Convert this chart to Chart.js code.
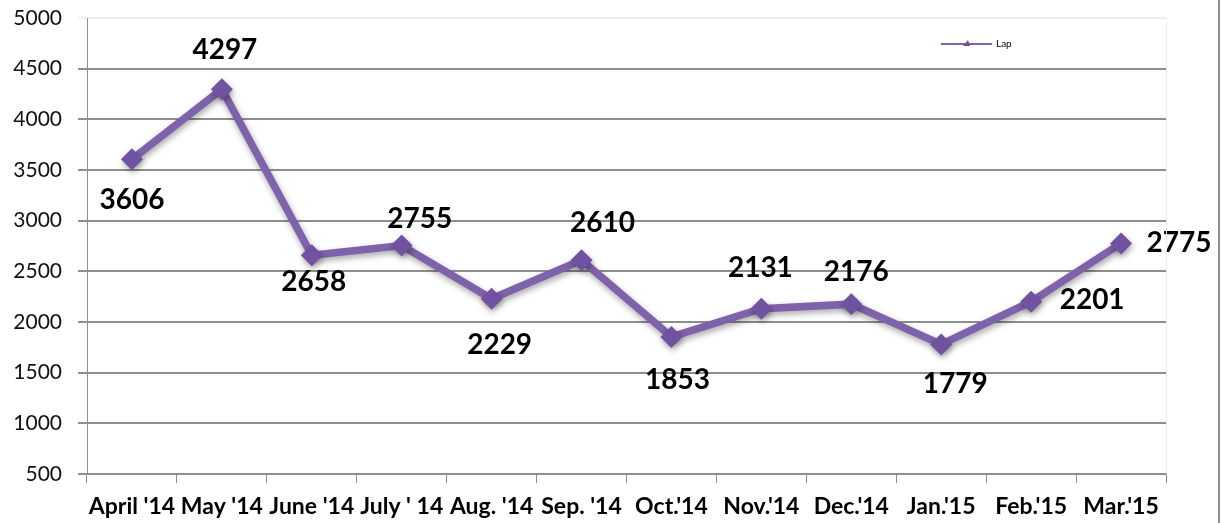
<!DOCTYPE html>
<html>
<head>
<meta charset="utf-8">
<script src="https://cdn.jsdelivr.net/npm/chart.js@4/dist/chart.umd.min.js"></script>
<style>
  html, body { margin: 0; padding: 0; background: #fff; }
  #wrap { width: 1228px; height: 523px; }
</style>
</head>
<body>
<div id="wrap"><canvas id="chart"></canvas></div>
<script>
// months on the x axis
const months = ["April '14", "May '14", "June '14", "July ' 14", "Aug. '14", "Sep. '14",
  "Oct.'14", "Nov.'14", "Dec.'14", "Jan.'15", "Feb.'15", "Mar.'15"]
// series values
const lapValues = [3606, 4297, 2658, 2755, 2229, 2610, 1853, 2131, 2176, 1779, 2201, 2775]
// y axis range
const yMin = 500
const yMax = 5000
const yStep = 500

const purple = '#7e62aa'
const gridGrey = '#8e8e8e'

// label offsets from each point (dx, dy), like the hand placed labels in the original
const labelOffsets = [[0, 41], [3, -39], [2, 27], [18, -27], [8, 46], [21, -37],
  [6, 43], [-1, -41], [5, -32], [14, 40], [61, -2], [58, 0]]

const shadowPlugin = {
  id: 'shadow',
  beforeDatasetsDraw(chart) {
    const ctx = chart.ctx
    ctx.save()
    ctx.shadowColor = 'rgba(0,0,0,0.35)'
    ctx.shadowBlur = 6
    ctx.shadowOffsetX = 1
    ctx.shadowOffsetY = 3
  },
  afterDatasetsDraw(chart) {
    chart.ctx.restore()
  }
}

const valueLabels = {
  id: 'valueLabels',
  afterDraw(chart) {
    const ctx = chart.ctx
    const meta = chart.getDatasetMeta(0)
    ctx.save()
    ctx.font = 'bold 28px Lato'
    ctx.fillStyle = '#000'
    ctx.textAlign = 'center'
    ctx.textBaseline = 'middle'
    meta.data.forEach((pt, i) => {
      const off = labelOffsets[i]
      ctx.fillText(chart.data.datasets[0].data[i], pt.x + off[0], pt.y + off[1])
    })
    ctx.restore()
  }
}

// small legend inside plot + right frame line
const legendAndFrame = {
  id: 'legendAndFrame',
  afterDraw(chart) {
    const ctx = chart.ctx
    const area = chart.chartArea
    ctx.save()
    // faint right edge of the plot
    ctx.strokeStyle = '#eeeeee'
    ctx.lineWidth = 1
    ctx.beginPath()
    ctx.moveTo(area.right + 0.5, area.top)
    ctx.lineTo(area.right + 0.5, area.bottom)
    ctx.stroke()
    // outer frame on the right
    ctx.strokeStyle = gridGrey
    ctx.lineWidth = 2
    ctx.beginPath()
    ctx.moveTo(chart.width - 9, 0)
    ctx.lineTo(chart.width - 9, chart.height)
    ctx.stroke()
    // legend
    const lx = area.left + 854, ly = 44
    ctx.strokeStyle = purple
    ctx.lineWidth = 2
    ctx.beginPath()
    ctx.moveTo(lx, ly)
    ctx.lineTo(lx + 51, ly)
    ctx.stroke()
    ctx.fillStyle = '#6e5098'
    ctx.beginPath()
    ctx.moveTo(lx + 22, ly + 2)
    ctx.lineTo(lx + 29, ly + 2)
    ctx.lineTo(lx + 27, ly - 4)
    ctx.closePath()
    ctx.fill()
    ctx.fillStyle = '#000'
    ctx.font = '10px Lato'
    ctx.textBaseline = 'middle'
    ctx.fillText(chart.data.datasets[0].label, lx + 55, ly)
    ctx.restore()
  }
}

new Chart(document.getElementById('chart'), {
  type: 'line',
  data: {
    labels: months,
    datasets: [{
      label: 'Lap',
      data: lapValues,
      borderColor: purple,
      borderWidth: 7.5,
      tension: 0,
      pointStyle: 'rectRot',
      pointRadius: 11,
      pointBackgroundColor: '#7152a0',
      pointBorderWidth: 0,
      pointHoverRadius: 11
    }]
  },
  options: {
    responsive: true,
    maintainAspectRatio: false,
    animation: false,
    layout: { padding: { top: 18, right: 62, left: 0, bottom: 0 } },
    plugins: {
      legend: { display: false },
      tooltip: { enabled: false }
    },
    scales: {
      x: {
        offset: true,
        grid: {
          offset: true,
          drawOnChartArea: false,
          drawTicks: true,
          tickLength: 9,
          color: gridGrey,
          lineWidth: 1
        },
        border: { display: true, color: gridGrey, width: 1 },
        ticks: {
          autoSkip: false,
          maxRotation: 0,
          minRotation: 0,
          padding: 10,
          color: '#000',
          font: { family: 'Lato', weight: 'bold', size: 23 }
        },
        afterFit(scale) { scale.height = 49 }
      },
      y: {
        min: yMin,
        max: yMax,
        ticks: {
          stepSize: yStep,
          padding: 16,
          color: '#111',
          font: { family: 'Lato', size: 21 },
          callback: v => String(v)
        },
        grid: {
          tickLength: 9,
          lineWidth: 2,
          color: ctx => (ctx.tick && ctx.tick.value === yMax) ? '#eeeeee' : gridGrey
        },
        border: { display: true, color: gridGrey, width: 1 },
        afterFit(scale) {
          scale.width = 87
          scale.paddingTop = 0
          scale.paddingBottom = 0
        }
      }
    }
  },
  plugins: [shadowPlugin, valueLabels, legendAndFrame]
})
</script>
</body>
</html>
